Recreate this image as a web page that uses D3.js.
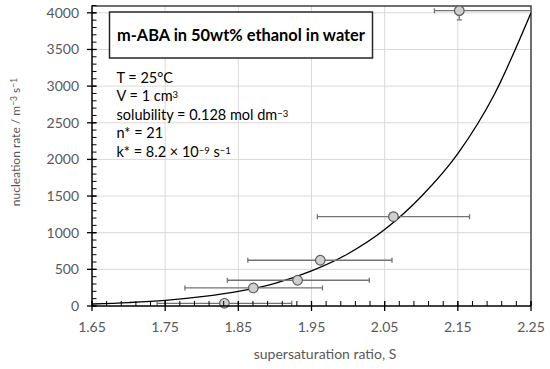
<!DOCTYPE html>
<html>
<head>
<meta charset="utf-8">
<script src="https://cdn.jsdelivr.net/npm/d3@7"></script>
<style>
  body { margin: 0; background: #fff; }
  svg { display: block; font-family: Lato, "Open Sans", sans-serif; }
  .tick-label { fill: #595959; font-size: 14px; }
  .axis-title { fill: #595959; font-size: 13.5px; }
  .note { fill: #000; font-size: 14.5px; }
</style>
</head>
<body>
<svg id="chart"></svg>
<script>
// measured points: supersaturation S, nucleation rate J and their error ranges
const sValues = [1.831, 1.8705, 1.931, 1.962, 2.062, 2.152];
const jValues = [37, 246, 351, 624, 1219, 4030];
const sErrLow = [1.739, 1.777, 1.835, 1.863, 1.958, 2.118];
const sErrHigh = [1.923, 1.965, 2.029, 2.06, 2.166, 2.25];
const jErr = [0, 0, 0, 0, 0, 125];

// fitted curve
const curveS = [1.65, 1.70, 1.75, 1.80, 1.85, 1.90, 1.95, 2.00, 2.05, 2.10, 2.15, 2.20, 2.25];
const curveJ = [27, 47, 77, 128, 200, 308, 478, 713, 1043, 1495, 2080, 2890, 4000];

const xTicks = [1.65, 1.75, 1.85, 1.95, 2.05, 2.15, 2.25];
const yTicks = [0, 500, 1000, 1500, 2000, 2500, 3000, 3500, 4000];

const config = {
  width: 550, height: 369,
  margin: { top: 5.5, right: 19, bottom: 63, left: 92 }
};
const innerW = config.width - config.margin.left - config.margin.right;
const innerH = config.height - config.margin.top - config.margin.bottom;

const svg = d3.select('#chart')
  .attr('width', config.width)
  .attr('height', config.height);

const g = svg.append('g')
  .attr('transform', `translate(${config.margin.left},${config.margin.top})`);

const x = d3.scaleLinear().domain([1.65, 2.25]).range([0, innerW]);
const y = d3.scaleLinear().domain([0, 4100]).range([innerH, 0]);

// clip for data
g.append('defs').append('clipPath').attr('id', 'plot-clip')
  .append('rect').attr('x', 0).attr('y', 0).attr('width', innerW).attr('height', innerH);

// gridlines
g.append('g').selectAll('line.hgrid').data(yTicks.slice(1)).join('line')
  .attr('x1', 0).attr('x2', innerW)
  .attr('y1', d => y(d)).attr('y2', d => y(d))
  .attr('stroke', '#d9d9d9').attr('stroke-width', 1);
g.append('g').selectAll('line.vgrid').data(xTicks.slice(1, -1)).join('line')
  .attr('x1', d => x(d)).attr('x2', d => x(d))
  .attr('y1', 0).attr('y2', innerH)
  .attr('stroke', '#d9d9d9').attr('stroke-width', 1);

// top and right border
g.append('path')
  .attr('d', `M0,0.5H${innerW}V${innerH}`)
  .attr('fill', 'none').attr('stroke', '#404040').attr('stroke-width', 1.5);

// annotation box
const box = g.append('g');
box.append('rect')
  .attr('x', 109.5 - config.margin.left).attr('y', 12 - config.margin.top)
  .attr('width', 263).attr('height', 46)
  .attr('fill', '#fff').attr('stroke', '#262626').attr('stroke-width', 1.5);
box.append('text')
  .attr('x', 241 - config.margin.left).attr('y', 40.5 - config.margin.top)
  .attr('text-anchor', 'middle')
  .style('font-size', '16.4px').style('font-weight', 'bold').attr('fill', '#000')
  .text('m-ABA in 50wt% ethanol in water');

// notes with superscripts
const notes = [
  [['T = 25°C']],
  [['V = 1 cm'], ['3', 'sup']],
  [['solubility = 0.128 mol dm'], ['\u22123', 'sup']],
  [['n* = 21']],
  [['k* = 8.2 \u00d7 10'], ['\u22129', 'sup'], [' s'], ['\u22121', 'sup']]
];
notes.forEach((parts, i) => {
  const t = g.append('text').attr('class', 'note')
    .attr('x', 116.5 - config.margin.left)
    .attr('y', 82.5 + i * 18.5 - config.margin.top);
  parts.forEach(p => {
    const ts = t.append('tspan').text(p[0]);
    if (p[1] === 'sup') ts.attr('baseline-shift', '35%').style('font-size', '9.5px');
  });
});

// fitted curve
const line = d3.line()
  .x((d, i) => x(curveS[i]))
  .y((d, i) => y(curveJ[i]))
  .curve(d3.curveMonotoneX);
g.append('path')
  .datum(curveS)
  .attr('d', line)
  .attr('fill', 'none').attr('stroke', '#000').attr('stroke-width', 1.3)
  .attr('clip-path', 'url(#plot-clip)');

// error bars
const errG = g.append('g').attr('clip-path', 'url(#plot-clip)');
const errColor = '#737373';
sValues.forEach((s, i) => {
  const cy = y(jValues[i]);
  errG.append('line')
    .attr('x1', x(sErrLow[i])).attr('x2', x(sErrHigh[i]))
    .attr('y1', cy).attr('y2', cy)
    .attr('stroke', errColor).attr('stroke-width', 1.3);
  [sErrLow[i], sErrHigh[i]].forEach(e => {
    errG.append('line')
      .attr('x1', x(e)).attr('x2', x(e))
      .attr('y1', cy - 2.5).attr('y2', cy + 2.5)
      .attr('stroke', errColor).attr('stroke-width', 1.3);
  });
  if (jErr[i] > 0) {
    errG.append('line')
      .attr('x1', x(s)).attr('x2', x(s))
      .attr('y1', y(jValues[i] - jErr[i])).attr('y2', y(jValues[i] + jErr[i]))
      .attr('stroke', errColor).attr('stroke-width', 1.3);
    errG.append('line')
      .attr('x1', x(s) - 2.5).attr('x2', x(s) + 2.5)
      .attr('y1', y(jValues[i] - jErr[i])).attr('y2', y(jValues[i] - jErr[i]))
      .attr('stroke', errColor).attr('stroke-width', 1.3);
  }
});

// markers
g.append('g').selectAll('circle').data(sValues).join('circle')
  .attr('cx', d => x(d))
  .attr('cy', (d, i) => y(jValues[i]))
  .attr('r', 4.8)
  .attr('fill', '#d0d0d0').attr('stroke', '#595959').attr('stroke-width', 1.2);

// axes
const xMinor = d3.range(1.65, 2.2501, 0.02);
const yMinor = d3.range(0, 4100.1, 100);

const axisG = g.append('g');
axisG.selectAll('line.xminor').data(xMinor).join('line')
  .attr('x1', d => x(d)).attr('x2', d => x(d))
  .attr('y1', innerH - 5).attr('y2', innerH)
  .attr('stroke', '#000').attr('stroke-width', 1);
axisG.selectAll('line.xmajor').data(xTicks).join('line')
  .attr('x1', d => x(d)).attr('x2', d => x(d))
  .attr('y1', innerH - 5).attr('y2', innerH + 5)
  .attr('stroke', '#000').attr('stroke-width', 1.3);
axisG.selectAll('line.yminor').data(yMinor).join('line')
  .attr('x1', 0).attr('x2', 4.5)
  .attr('y1', d => y(d)).attr('y2', d => y(d))
  .attr('stroke', '#000').attr('stroke-width', 1);
axisG.selectAll('line.ymajor').data(yTicks).join('line')
  .attr('x1', -5).attr('x2', 4.5)
  .attr('y1', d => y(d)).attr('y2', d => y(d))
  .attr('stroke', '#000').attr('stroke-width', 1.3);
axisG.append('line')
  .attr('x1', 0).attr('x2', innerW).attr('y1', innerH).attr('y2', innerH)
  .attr('stroke', '#000').attr('stroke-width', 1.5);
axisG.append('line')
  .attr('x1', 0).attr('x2', 0).attr('y1', 0).attr('y2', innerH)
  .attr('stroke', '#000').attr('stroke-width', 1.5);

// tick labels
axisG.selectAll('text.xl').data(xTicks).join('text')
  .attr('class', 'tick-label')
  .attr('x', d => x(d)).attr('y', innerH + 25.5)
  .attr('text-anchor', 'middle')
  .text(d => d3.format('.2f')(d));
axisG.selectAll('text.yl').data(yTicks).join('text')
  .attr('class', 'tick-label')
  .attr('x', -13).attr('y', d => y(d) + 5)
  .attr('text-anchor', 'end')
  .text(d => d);

// axis titles
svg.append('text').attr('class', 'axis-title')
  .attr('x', 325).attr('y', 358.5)
  .attr('text-anchor', 'middle')
  .style('font-size', '14px')
  .text('supersaturation ratio, S');

const yt = svg.append('text').attr('class', 'axis-title')
  .attr('transform', 'translate(20,142) rotate(-90)')
  .attr('text-anchor', 'middle')
  .style('font-size', '12px');
yt.append('tspan').text('nucleation rate / m');
yt.append('tspan').text('\u22123').attr('baseline-shift', '35%').style('font-size', '8.5px');
yt.append('tspan').text(' s');
yt.append('tspan').text('\u22121').attr('baseline-shift', '35%').style('font-size', '8.5px');
</script>
</body>
</html>
